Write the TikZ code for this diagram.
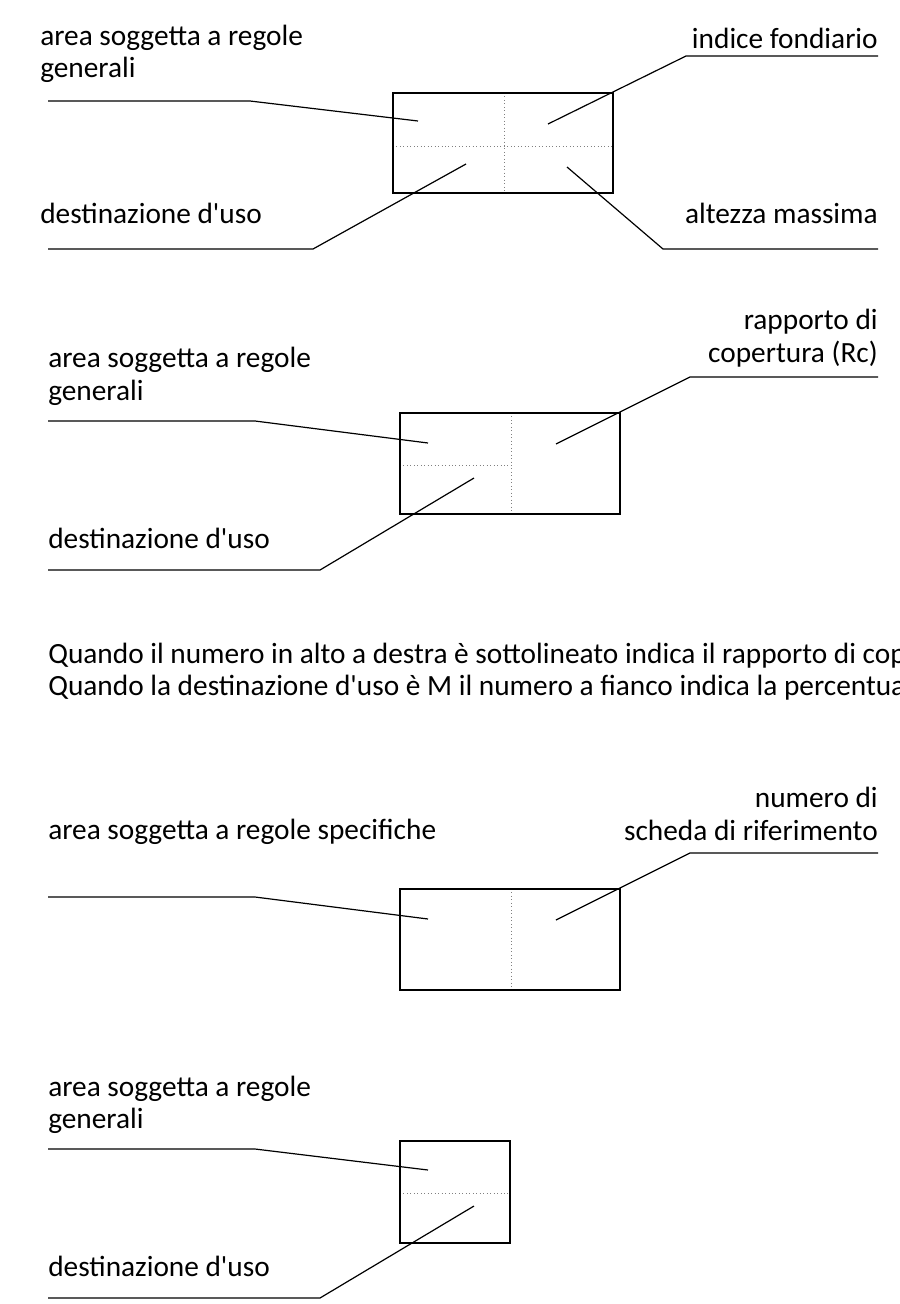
\documentclass[tikz,border=0pt]{standalone}
\usepackage{fontspec}
\setmainfont{Carlito}
\newcommand{\apo}{\textquotesingle}
\begin{document}
\begin{tikzpicture}[x=0.75pt,y=-0.75pt,
  lbl/.style={inner sep=0pt,font=\fontsize{22}{24}\selectfont},
  lblL/.style={lbl,anchor=west,align=left},
  lblR/.style={lbl,anchor=east,align=right},
  frame/.style={draw=black,line width=1.5pt},
  grid/.style={draw=gray,line width=0.6pt,dotted},
  leader/.style={draw=black,line width=0.9pt}]
\path[use as bounding box] (0,0) rectangle (900,1304);
\clip (0,0) rectangle (900,1304);

% ---------- panel 1 ----------
\node[lblL] (t1a) at (40,38) {area soggetta a regole};
\node[lblL] (t1b) at (40,70) {generali};
\node[lblR] (t1c) at (878,38) {indice fondiario};
\node[lblL] (t1d) at (40,213) {destinazione d\apo uso};
\node[lblR] (t1e) at (878,213) {altezza massima};
\draw[grid] (504,93) -- (504,193);
\draw[grid] (393,146) -- (613,146);
\draw[frame] (393,93) rectangle (613,193);
\coordinate (a1) at (48,101); \coordinate (a1k) at (250,101); \coordinate (a1e) at (418,121);
\coordinate (b1) at (878,56); \coordinate (b1k) at (686,56); \coordinate (b1e) at (548,124);
\coordinate (c1) at (48,249); \coordinate (c1k) at (313,249); \coordinate (c1e) at (466,164);
\coordinate (d1) at (878,249); \coordinate (d1k) at (663,249); \coordinate (d1e) at (567,167);
\draw[leader] (a1) -- (a1k) -- (a1e);
\draw[leader] (b1) -- (b1k) -- (b1e);
\draw[leader] (c1) -- (c1k) -- (c1e);
\draw[leader] (d1) -- (d1k) -- (d1e);

% ---------- panel 2 ----------
\node[lblR] (t2a) at (878,322) {rapporto di};
\node[lblR] (t2b) at (878,354) {copertura (Rc)};
\node[lblL] (t2c) at (48,360) {area soggetta a regole};
\node[lblL] (t2d) at (48,393) {generali};
\node[lblL] (t2e) at (48,538) {destinazione d\apo uso};
\draw[grid] (511,413) -- (511,514);
\draw[grid] (400,465) -- (511,465);
\draw[frame] (400,413) rectangle (620,514);
\coordinate (a2) at (48,421); \coordinate (a2k) at (255,421); \coordinate (a2e) at (428,443);
\coordinate (b2) at (878,377); \coordinate (b2k) at (690,377); \coordinate (b2e) at (556,444);
\coordinate (c2) at (48,570); \coordinate (c2k) at (320,570); \coordinate (c2e) at (474,478);
\draw[leader] (a2) -- (a2k) -- (a2e);
\draw[leader] (b2) -- (b2k) -- (b2e);
\draw[leader] (c2) -- (c2k) -- (c2e);

% ---------- notes ----------
\node[lblL] (n1) at (48,656) {Quando il numero in alto a destra è sottolineato indica il rapporto di cop};
\node[lblL] (n2) at (48,688) {Quando la destinazione d\apo uso è M il numero a fianco indica la percentua};

% ---------- panel 3 ----------
\node[lblR] (t3a) at (878,797) {numero di};
\node[lblR] (t3b) at (878,830) {scheda di riferimento};
\node[lblL] (t3c) at (48,832) {area soggetta a regole specifiche};
\draw[grid] (511,889) -- (511,990);
\draw[frame] (400,889) rectangle (620,990);
\coordinate (a3) at (48,897); \coordinate (a3k) at (255,897); \coordinate (a3e) at (428,919);
\coordinate (b3) at (878,853); \coordinate (b3k) at (690,853); \coordinate (b3e) at (556,920);
\draw[leader] (a3) -- (a3k) -- (a3e);
\draw[leader] (b3) -- (b3k) -- (b3e);

% ---------- panel 4 ----------
\node[lblL] (t4a) at (48,1089) {area soggetta a regole};
\node[lblL] (t4b) at (48,1121) {generali};
\node[lblL] (t4c) at (48,1266) {destinazione d\apo uso};
\draw[grid] (400,1193) -- (510,1193);
\draw[frame] (400,1141) rectangle (510,1243);
\coordinate (a4) at (48,1149); \coordinate (a4k) at (255,1149); \coordinate (a4e) at (428,1170);
\coordinate (c4) at (48,1298); \coordinate (c4k) at (320,1298); \coordinate (c4e) at (474,1206);
\draw[leader] (a4) -- (a4k) -- (a4e);
\draw[leader] (c4) -- (c4k) -- (c4e);
\end{tikzpicture}
\end{document}
